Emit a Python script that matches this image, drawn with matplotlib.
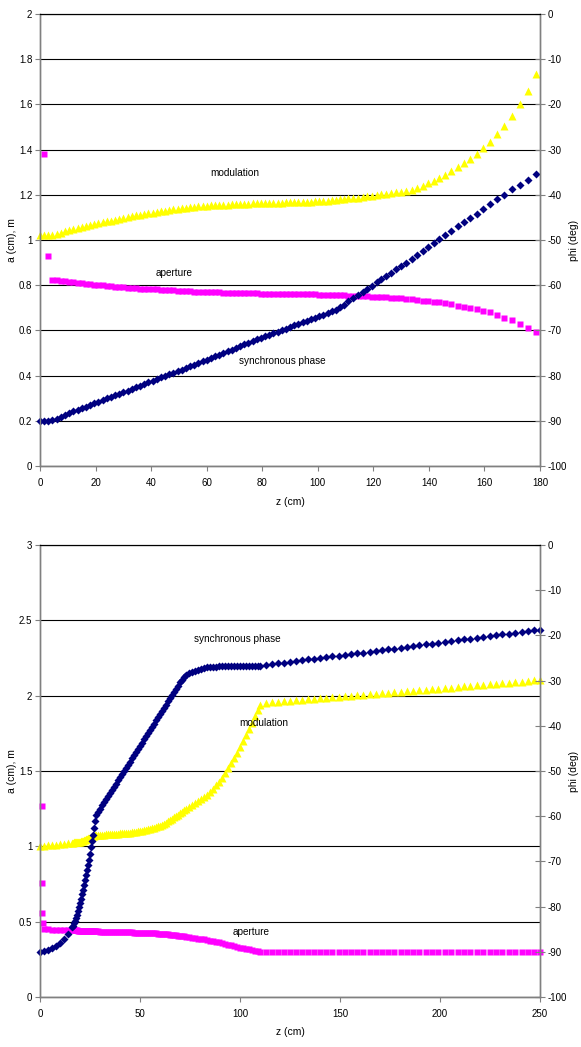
import numpy as np
import matplotlib
matplotlib.use("Agg")
import matplotlib.pyplot as plt
from matplotlib.ticker import MultipleLocator, FuncFormatter

plt.rcParams['font.family'] = ['Liberation Sans', 'DejaVu Sans']

# ---------------------------------------------------------
# TOP CHART DATA (z in cm, a / m on left axis, phi in deg on right axis)
# ---------------------------------------------------------
z_top = [
    0, 1.5, 3, 4.5, 6, 7.5, 9, 10.5, 12, 13.5,
    15, 16.5, 18, 19.5, 21, 22.5, 24, 25.5, 27, 28.5,
    30, 31.5, 33, 34.5, 36, 37.5, 39, 40.5, 42, 43.5,
    45, 46.5, 48, 49.5, 51, 52.5, 54, 55.5, 57, 58.5,
    60, 61.5, 63, 64.5, 66, 67.5, 69, 70.5, 72, 73.5,
    75, 76.5, 78, 79.5, 81, 82.5, 84, 85.5, 87, 88.5,
    90, 91.5, 93, 94.5, 96, 97.5, 99, 100.5, 102, 103.5,
    105, 106.5, 108, 109.5, 111, 112.7, 114.4, 116.1, 117.8, 119.5,
    121.2, 122.9, 124.6, 126.3, 128.1, 129.9, 131.8, 133.8, 135.8, 137.8,
    139.8, 141.8, 143.8, 145.9, 148.1, 150.3, 152.5, 154.8, 157.2, 159.6,
    162.1, 164.6, 167.2, 169.9, 172.7, 175.6, 178.6]

phase_top = [
    -90.0, -90.0, -90.0, -89.8, -89.5, -89.1, -88.7, -88.3, -87.9, -87.6,
    -87.2, -86.9, -86.5, -86.1, -85.8, -85.4, -85.0, -84.7, -84.3, -84.0,
    -83.6, -83.3, -82.9, -82.6, -82.2, -81.9, -81.5, -81.2, -80.8, -80.4,
    -80.1, -79.7, -79.4, -79.0, -78.7, -78.3, -77.9, -77.6, -77.2, -76.8,
    -76.5, -76.1, -75.7, -75.4, -75.0, -74.6, -74.3, -73.9, -73.5, -73.1,
    -72.8, -72.4, -72.0, -71.7, -71.3, -71.0, -70.6, -70.3, -69.9, -69.6,
    -69.2, -68.9, -68.5, -68.2, -67.9, -67.5, -67.2, -66.9, -66.5, -66.2,
    -65.8, -65.4, -64.9, -64.3, -63.6, -62.9, -62.2, -61.5, -60.8, -60.1,
    -59.4, -58.7, -58.0, -57.3, -56.5, -55.8, -55.0, -54.2, -53.3, -52.4,
    -51.5, -50.6, -49.7, -48.9, -47.9, -47.0, -46.1, -45.1, -44.2, -43.2,
    -42.1, -40.9, -40.0, -38.8, -37.8, -36.7, -35.4]

mod_top = [
    1.020, 1.020, 1.021, 1.024, 1.028, 1.033, 1.038, 1.043, 1.048, 1.053,
    1.058, 1.062, 1.066, 1.070, 1.074, 1.078, 1.082, 1.086, 1.090, 1.094,
    1.098, 1.102, 1.106, 1.109, 1.112, 1.115, 1.118, 1.121, 1.124, 1.127,
    1.130, 1.133, 1.136, 1.139, 1.141, 1.143, 1.145, 1.147, 1.149, 1.150,
    1.152, 1.153, 1.154, 1.155, 1.156, 1.157, 1.158, 1.159, 1.160, 1.160,
    1.161, 1.162, 1.162, 1.163, 1.163, 1.164, 1.164, 1.165, 1.165, 1.166,
    1.166, 1.167, 1.167, 1.168, 1.169, 1.170, 1.171, 1.172, 1.173, 1.174,
    1.176, 1.178, 1.180, 1.182, 1.184, 1.186, 1.188, 1.190, 1.193, 1.196,
    1.199, 1.202, 1.205, 1.208, 1.211, 1.214, 1.218, 1.222, 1.228, 1.237,
    1.250, 1.261, 1.274, 1.289, 1.307, 1.324, 1.339, 1.360, 1.381, 1.406,
    1.434, 1.469, 1.504, 1.550, 1.600, 1.661, 1.735]

ap_top = [
    np.nan, 1.38, 0.93, 0.825, 0.822, 0.819, 0.817, 0.815, 0.813, 0.811,
    0.809, 0.807, 0.805, 0.803, 0.801, 0.799, 0.797, 0.796, 0.794, 0.792,
    0.791, 0.789, 0.788, 0.786, 0.785, 0.784, 0.783, 0.782, 0.781, 0.780,
    0.779, 0.778, 0.777, 0.776, 0.775, 0.774, 0.773, 0.772, 0.771, 0.770,
    0.769, 0.769, 0.768, 0.768, 0.767, 0.767, 0.766, 0.766, 0.765, 0.765,
    0.764, 0.764, 0.764, 0.763, 0.763, 0.763, 0.762, 0.762, 0.762, 0.761,
    0.761, 0.761, 0.760, 0.760, 0.760, 0.759, 0.759, 0.758, 0.758, 0.757,
    0.757, 0.756, 0.755, 0.755, 0.754, 0.753, 0.752, 0.751, 0.750, 0.749,
    0.748, 0.747, 0.746, 0.745, 0.743, 0.742, 0.740, 0.738, 0.735, 0.732,
    0.729, 0.727, 0.724, 0.720, 0.716, 0.710, 0.704, 0.699, 0.694, 0.687,
    0.680, 0.668, 0.655, 0.645, 0.629, 0.612, 0.594]

# ---------------------------------------------------------
# BOTTOM CHART DATA
# ---------------------------------------------------------
z_bot = [
    0, 2, 4, 6, 8, 10, 12, 14, 16,
    16.5, 17, 17.5, 18, 18.5, 19, 19.5, 20, 20.5, 21, 21.5, 22,
    22.5, 23, 23.5, 24, 24.5, 25, 25.5, 26, 26.5, 27, 27.5, 28,
    29, 30, 31, 32, 33, 34, 35, 36, 37, 38,
    39, 40, 41, 42, 43, 44, 45, 46, 47, 48,
    49, 50, 51, 52, 53, 54, 55, 56, 57, 58,
    59, 60, 61, 62, 63, 64, 65, 66, 67, 68,
    69, 70, 71, 72, 73,
    74.5, 76, 77.5, 79, 80.5, 82, 83.5, 85, 86.5, 88,
    89.5, 91, 92.5, 94, 95.5, 97, 98.5, 100, 101.5, 103,
    104.5, 106, 107.5, 109, 110,
    113, 116, 119, 122, 125, 128, 131, 134, 137, 140,
    143.1, 146.2, 149.3, 152.4, 155.5, 158.6, 161.7, 164.8, 167.9, 171,
    174.1, 177.2, 180.3, 183.4, 186.5, 189.6, 192.8, 196, 199.2, 202.4,
    205.6, 208.8, 212, 215.2, 218.4, 221.6, 224.8, 228, 231.2, 234.4,
    237.6, 240.8, 244, 247.2, 250]

phase_bot = [
    -90.0, -89.9, -89.6, -89.2, -88.7, -88.0, -87.1, -86.0, -84.6,
    -84.2, -83.7, -83.2, -82.5, -81.8, -81.0, -80.1, -79.2, -78.3, -77.3, -76.3, -75.3,
    -74.2, -73.1, -72.0, -70.8, -69.6, -68.3, -66.9, -65.5, -64.1, -62.6, -61.1, -59.7,
    -59.0, -58.3, -57.6, -56.9, -56.2, -55.5, -54.9, -54.2, -53.5, -52.8,
    -52.1, -51.4, -50.7, -50.0, -49.3, -48.6, -47.9, -47.2, -46.5, -45.8,
    -45.1, -44.4, -43.7, -43.0, -42.3, -41.6, -40.9, -40.2, -39.5, -38.8,
    -38.1, -37.4, -36.7, -36.0, -35.3, -34.6, -33.9, -33.2, -32.5, -31.8,
    -31.1, -30.4, -29.8, -29.2, -28.8,
    -28.4, -28.1, -27.8, -27.6, -27.4, -27.2, -27.1, -27.0, -26.9, -26.9,
    -26.8, -26.8, -26.8, -26.8, -26.8, -26.8, -26.8, -26.8, -26.8, -26.8,
    -26.8, -26.8, -26.8, -26.8, -26.7,
    -26.5, -26.3, -26.2, -26.0, -25.8, -25.7, -25.5, -25.3, -25.2, -25.0,
    -24.8, -24.6, -24.5, -24.3, -24.1, -23.9, -23.8, -23.6, -23.4, -23.2,
    -23.1, -22.9, -22.7, -22.5, -22.4, -22.2, -22.0, -21.8, -21.6, -21.4,
    -21.3, -21.1, -20.9, -20.7, -20.5, -20.3, -20.2, -20.0, -19.8, -19.6,
    -19.4, -19.2, -19.0, -18.8, -18.7]

mod_bot = [
    1.000, 1.003, 1.006, 1.009, 1.012, 1.015, 1.018, 1.021, 1.024,
    1.025, 1.026, 1.027, 1.028, 1.029, 1.030, 1.031, 1.032, 1.034, 1.036, 1.038, 1.040,
    1.043, 1.046, 1.049, 1.052, 1.055, 1.058, 1.061, 1.064, 1.067, 1.070, 1.072, 1.074,
    1.075, 1.076, 1.077, 1.078, 1.079, 1.080, 1.081, 1.082, 1.083, 1.084,
    1.085, 1.086, 1.087, 1.088, 1.089, 1.090, 1.091, 1.093, 1.095, 1.097,
    1.099, 1.101, 1.104, 1.107, 1.110, 1.113, 1.117, 1.121, 1.125, 1.129,
    1.133, 1.138, 1.144, 1.151, 1.158, 1.166, 1.175, 1.184, 1.193, 1.202,
    1.211, 1.220, 1.229, 1.238, 1.247,
    1.260, 1.274, 1.288, 1.300, 1.313, 1.328, 1.344, 1.362, 1.382, 1.404,
    1.428, 1.455, 1.485, 1.517, 1.551, 1.586, 1.622, 1.660, 1.698, 1.738,
    1.778, 1.820, 1.864, 1.908, 1.935,
    1.952, 1.955, 1.958, 1.962, 1.965, 1.968, 1.972, 1.975, 1.978, 1.982,
    1.985, 1.988, 1.992, 1.995, 1.999, 2.002, 2.006, 2.009, 2.013, 2.016,
    2.019, 2.023, 2.026, 2.030, 2.033, 2.037, 2.040, 2.044, 2.047, 2.051,
    2.054, 2.058, 2.062, 2.065, 2.069, 2.072, 2.076, 2.080, 2.083, 2.087,
    2.090, 2.094, 2.097, 2.101, 2.104]

ap_bot = [
    np.nan, 0.450, 0.449, 0.448, 0.447, 0.446, 0.445, 0.444, 0.443,
    0.443, 0.443, 0.442, 0.442, 0.442, 0.441, 0.441, 0.441, 0.440, 0.440, 0.440, 0.439,
    0.439, 0.439, 0.438, 0.438, 0.438, 0.437, 0.437, 0.437, 0.436, 0.436, 0.436, 0.435,
    0.435, 0.434, 0.434, 0.434, 0.433, 0.433, 0.433, 0.432, 0.432, 0.432,
    0.431, 0.431, 0.431, 0.430, 0.430, 0.430, 0.429, 0.429, 0.428, 0.428,
    0.427, 0.427, 0.426, 0.426, 0.425, 0.425, 0.424, 0.423, 0.423, 0.422,
    0.421, 0.420, 0.419, 0.418, 0.417, 0.416, 0.414, 0.413, 0.411, 0.410,
    0.408, 0.406, 0.404, 0.402, 0.400,
    0.397, 0.394, 0.391, 0.388, 0.385, 0.382, 0.378, 0.375, 0.371, 0.367,
    0.363, 0.358, 0.353, 0.348, 0.343, 0.338, 0.333, 0.328, 0.324, 0.320,
    0.316, 0.312, 0.308, 0.304, 0.301,
    0.300, 0.300, 0.300, 0.300, 0.300, 0.300, 0.300, 0.300, 0.300, 0.300,
    0.300, 0.300, 0.300, 0.300, 0.300, 0.300, 0.300, 0.300, 0.300, 0.300,
    0.300, 0.300, 0.300, 0.300, 0.300, 0.300, 0.300, 0.300, 0.300, 0.300,
    0.300, 0.300, 0.300, 0.300, 0.300, 0.300, 0.300, 0.300, 0.300, 0.300,
    0.300, 0.300, 0.300, 0.300, 0.300]

# first few aperture cells of the bottom chart (before the flat part)
ap_bot_start_z = [0.8, 0.8, 1.1, 1.6]
ap_bot_start = [1.27, 0.755, 0.56, 0.49]

# ---------------------------------------------------------
# STYLE
# ---------------------------------------------------------
YELLOW = "#FFFF00"
MAGENTA = "#FF00FF"
NAVY = "#000080"
SPINE = "#808080"

W, H = 581, 1047
fig = plt.figure(figsize=(W / 100, H / 100), dpi=100)

fmt = FuncFormatter(lambda v, p: f"{v:g}")


def setup_panel(top_px, xmax, xstep, ymax, ystep):
    left = 40 / W
    width = 500 / W
    bottom = 1 - (top_px + 452) / H
    height = 452 / H
    ax = fig.add_axes([left, bottom, width, height])
    ax2 = ax.twinx()

    ax.set_xlim(0, xmax)
    ax.set_ylim(0, ymax)
    ax2.set_ylim(-100, 0)

    ax.xaxis.set_major_locator(MultipleLocator(xstep))
    ax.yaxis.set_major_locator(MultipleLocator(ystep))
    ax2.yaxis.set_major_locator(MultipleLocator(10))
    ax.xaxis.set_major_formatter(fmt)
    ax.yaxis.set_major_formatter(fmt)
    ax2.yaxis.set_major_formatter(fmt)

    ax.yaxis.grid(True, color="black", lw=0.8)
    ax.set_axisbelow(True)

    for a in (ax, ax2):
        for side in ("left", "right", "bottom"):
            a.spines[side].set_color(SPINE)
            a.spines[side].set_linewidth(1.0)
        a.spines["top"].set_color("black")
        a.spines["top"].set_linewidth(0.8)

    ax.tick_params(axis="both", labelsize=7, length=3.5, width=0.8,
                   color=SPINE, pad=2)
    ax.tick_params(axis="x", pad=5)
    ax2.tick_params(axis="y", labelsize=7, length=7, width=0.8,
                    color=SPINE, direction="inout", pad=2)
    return ax, ax2


def draw_series(ax, ax2, z, ph, mod, ap):
    ax.plot(z, ap, ls="none", marker="s", ms=4.9, mfc=MAGENTA, mec="none",
            clip_on=False)
    ax.plot(z, mod, ls="none", marker="^", ms=5.8, mfc=YELLOW, mec="none",
            clip_on=False)
    ax2.plot(z, ph, ls="none", marker="D", ms=3.9, mfc=NAVY, mec="none",
             clip_on=False)


def label(text, px, py, **kw):
    fig.text(px / W, 1 - py / H, text, ha="center", va="center",
             fontsize=7.5, **kw)


# ---------------------------------------------------------
# TOP PANEL
# ---------------------------------------------------------
ax1, ax1r = setup_panel(14, 180, 20, 2, 0.2)
draw_series(ax1, ax1r, z_top, phase_top, mod_top, ap_top)

ax1.text(70.2, 1.298, "modulation", fontsize=7.2, ha="center", va="center")
ax1.text(48.2, 0.855, "aperture", fontsize=7.2, ha="center", va="center")
ax1.text(87.1, 0.466, "synchronous phase", fontsize=7.2, ha="center", va="center")

label("z (cm)", 290, 502)
label("a (cm), m", 12, 240, rotation=90)
label("phi (deg)", 574, 240, rotation=90)

# ---------------------------------------------------------
# BOTTOM PANEL
# ---------------------------------------------------------
ax2, ax2r = setup_panel(545, 250, 50, 3, 0.5)
draw_series(ax2, ax2r, z_bot, phase_bot, mod_bot, ap_bot)
ax2.plot(ap_bot_start_z, ap_bot_start, ls="none", marker="s", ms=4.9,
         mfc=MAGENTA, mec="none", clip_on=False)
ax2r.set_zorder(ax2.get_zorder() + 1)

ax2.text(98.5, 2.374, "synchronous phase", fontsize=7.2, ha="center", va="center")
ax2.text(112, 1.817, "modulation", fontsize=7.2, ha="center", va="center")
ax2.text(105.5, 0.433, "aperture", fontsize=7.2, ha="center", va="center")

label("z (cm)", 290, 1032)
label("a (cm), m", 12, 771, rotation=90)
label("phi (deg)", 574, 771, rotation=90)

fig.savefig("out.png", dpi=100)
